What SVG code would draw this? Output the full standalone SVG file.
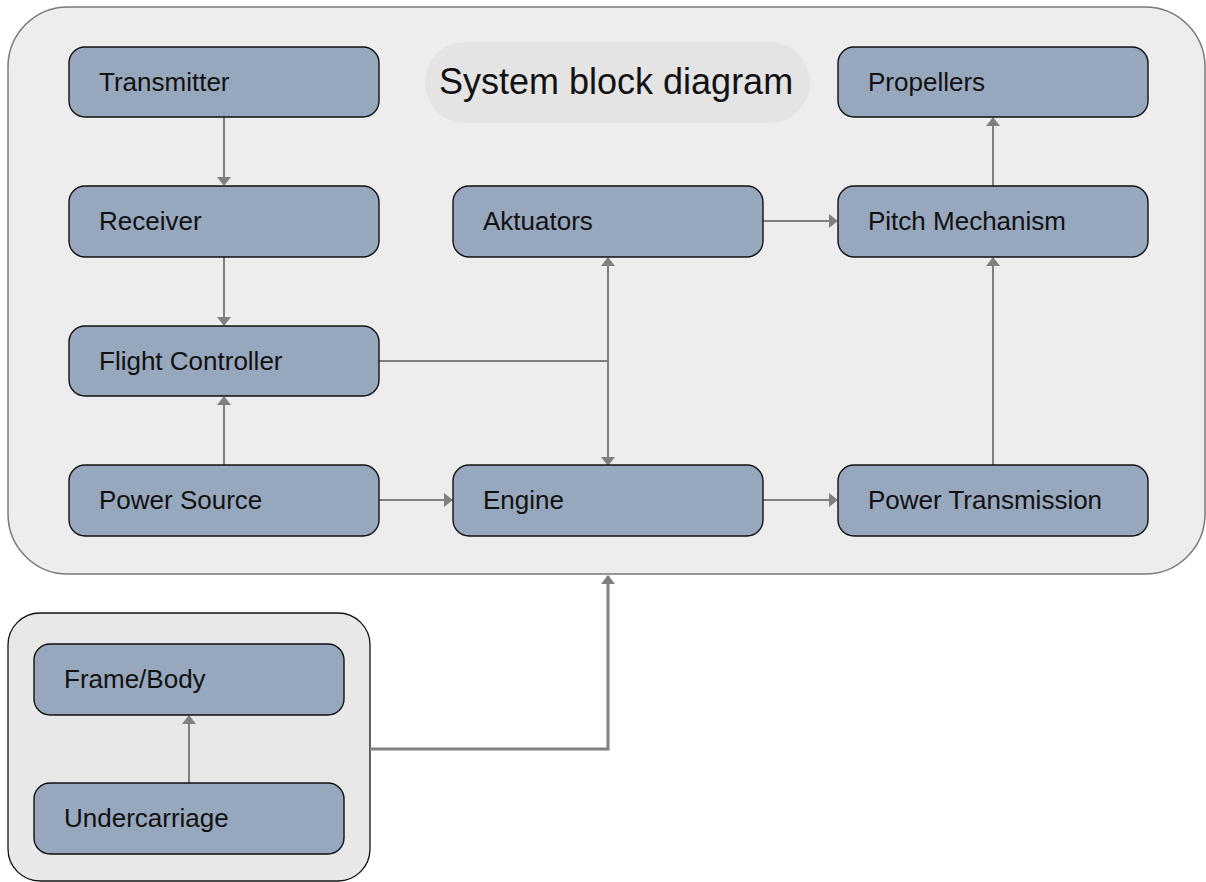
<svg xmlns="http://www.w3.org/2000/svg" width="1206" height="882" viewBox="0 0 1206 882">
  <defs>
    <style>
      .frame { fill: #ededed; stroke: #7a7a7a; stroke-width: 1.5; }
      .group { fill: #e8e8e8; stroke: #111; stroke-width: 1.3; }
      .pill { fill: #e4e4e4; stroke: none; }
      .box { fill: #97a7bd; stroke: #111; stroke-width: 1.4; }
      .label { font-family: "Liberation Sans", Arial, sans-serif; font-size: 26px; fill: #111; }
      .title { font-family: "Liberation Sans", Arial, sans-serif; font-size: 36px; fill: #111; }
      .wire { fill: none; stroke: #808080; stroke-width: 2; }
      .wire-bold { fill: none; stroke: #808080; stroke-width: 3; }
    </style>
    <marker id="arrow" markerUnits="userSpaceOnUse" markerWidth="9" markerHeight="14" viewBox="0 0 9 14" refX="8" refY="7" orient="auto-start-reverse">
      <path d="M0,0 L9,7 L0,14 z" fill="#808080"/>
    </marker>
  </defs>

  <!-- main system frame -->
  <rect class="frame" x="8" y="7" width="1197" height="567" rx="60" ry="60"/>

  <!-- airframe group -->
  <rect class="group" x="8" y="613" width="362" height="268" rx="32" ry="32"/>

  <!-- title -->
  <g id="title">
    <rect class="pill" x="425" y="42" width="385" height="81" rx="40" ry="40"/>
    <text class="title" x="439" y="94">System block diagram</text>
  </g>

  <!-- connectors -->
  <g id="connectors">
    <line class="wire" x1="224" y1="117" x2="224" y2="185" marker-end="url(#arrow)"/>
    <line class="wire" x1="224" y1="257" x2="224" y2="325" marker-end="url(#arrow)"/>
    <line class="wire" x1="224" y1="465" x2="224" y2="397" marker-end="url(#arrow)"/>
    <line class="wire" x1="379" y1="500" x2="452" y2="500" marker-end="url(#arrow)"/>
    <polyline class="wire" points="379,361 608,361"/>
    <line class="wire" x1="608" y1="465" x2="608" y2="258" marker-start="url(#arrow)" marker-end="url(#arrow)"/>
    <line class="wire" x1="763" y1="221" x2="837" y2="221" marker-end="url(#arrow)"/>
    <line class="wire" x1="763" y1="500" x2="837" y2="500" marker-end="url(#arrow)"/>
    <line class="wire" x1="993" y1="465" x2="993" y2="258" marker-end="url(#arrow)"/>
    <line class="wire" x1="993" y1="186" x2="993" y2="118" marker-end="url(#arrow)"/>
    <line class="wire" x1="189" y1="783" x2="189" y2="716" marker-end="url(#arrow)"/>
    <polyline class="wire-bold" points="370,749 608,749 608,576" marker-end="url(#arrow)"/>
  </g>

  <!-- nodes -->
  <g id="transmitter">
    <rect class="box" x="69" y="47" width="310" height="70" rx="16" ry="16"/>
    <text class="label" x="99" y="91">Transmitter</text>
  </g>
  <g id="receiver">
    <rect class="box" x="69" y="186" width="310" height="71" rx="16" ry="16"/>
    <text class="label" x="99" y="230">Receiver</text>
  </g>
  <g id="flight-controller">
    <rect class="box" x="69" y="326" width="310" height="70" rx="16" ry="16"/>
    <text class="label" x="99" y="370">Flight Controller</text>
  </g>
  <g id="power-source">
    <rect class="box" x="69" y="465" width="310" height="71" rx="16" ry="16"/>
    <text class="label" x="99" y="509">Power Source</text>
  </g>
  <g id="aktuators">
    <rect class="box" x="453" y="186" width="310" height="71" rx="16" ry="16"/>
    <text class="label" x="483" y="230">Aktuators</text>
  </g>
  <g id="engine">
    <rect class="box" x="453" y="465" width="310" height="71" rx="16" ry="16"/>
    <text class="label" x="483" y="509">Engine</text>
  </g>
  <g id="propellers">
    <rect class="box" x="838" y="47" width="310" height="70" rx="16" ry="16"/>
    <text class="label" x="868" y="91">Propellers</text>
  </g>
  <g id="pitch-mechanism">
    <rect class="box" x="838" y="186" width="310" height="71" rx="16" ry="16"/>
    <text class="label" x="868" y="230">Pitch Mechanism</text>
  </g>
  <g id="power-transmission">
    <rect class="box" x="838" y="465" width="310" height="71" rx="16" ry="16"/>
    <text class="label" x="868" y="509">Power Transmission</text>
  </g>
  <g id="frame-body">
    <rect class="box" x="34" y="644" width="310" height="71" rx="16" ry="16"/>
    <text class="label" x="64" y="688">Frame/Body</text>
  </g>
  <g id="undercarriage">
    <rect class="box" x="34" y="783" width="310" height="71" rx="16" ry="16"/>
    <text class="label" x="64" y="827">Undercarriage</text>
  </g>
</svg>
